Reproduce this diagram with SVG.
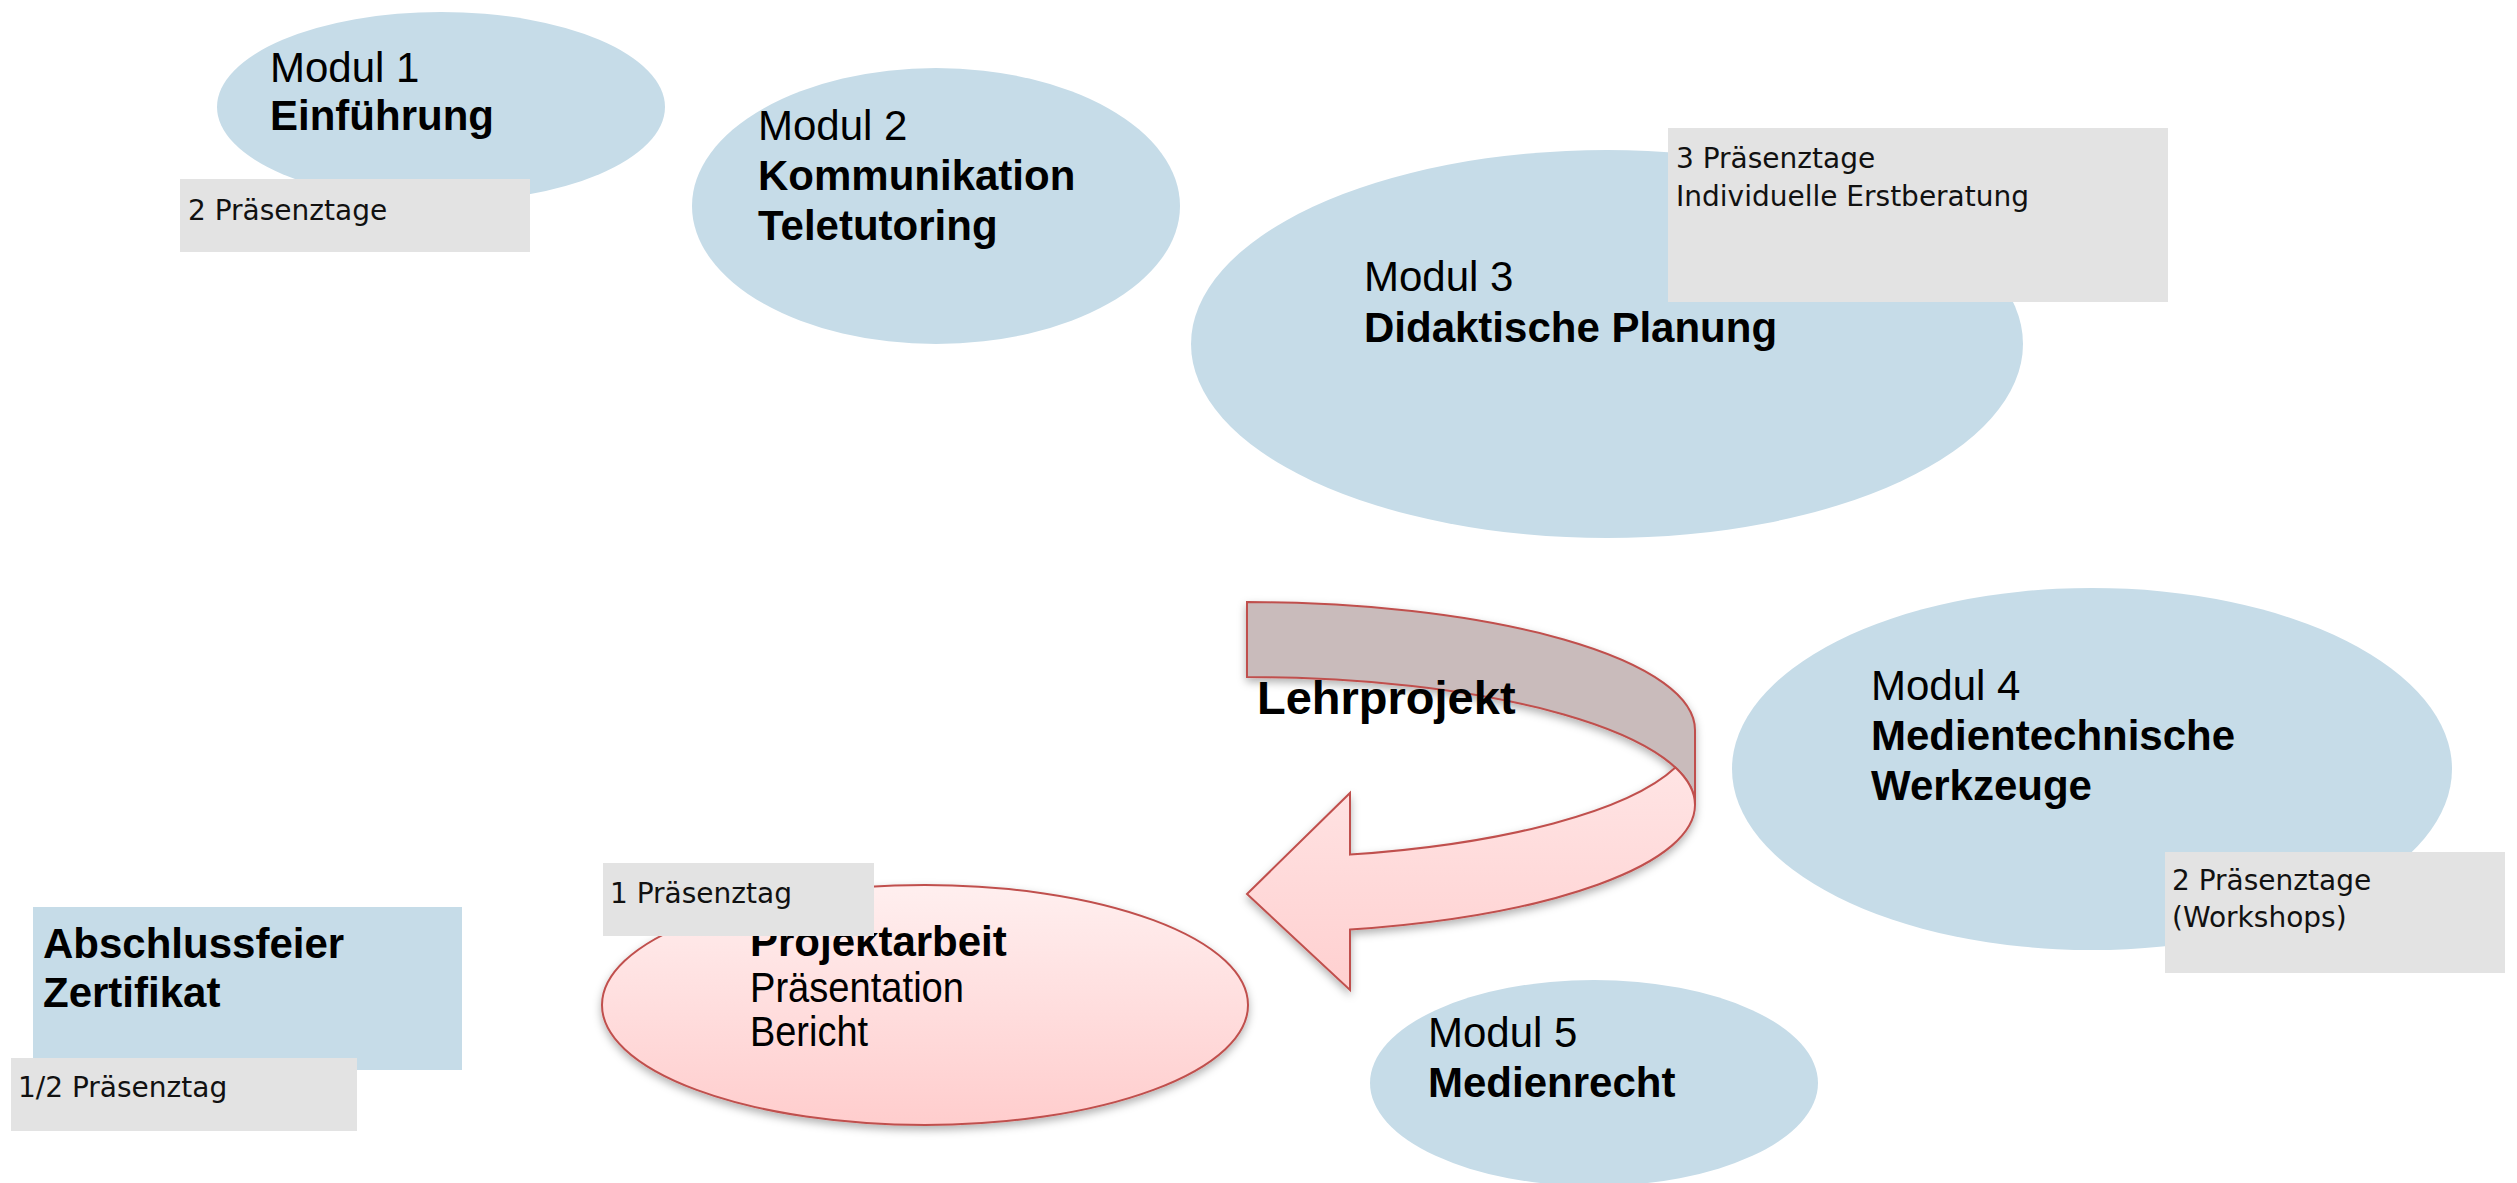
<svg xmlns="http://www.w3.org/2000/svg" width="2517" height="1183" viewBox="0 0 2517 1183">
  <style>
    .blue { fill: #C6DCE8; }
    .gray { fill: #E3E3E3; }
    .t { font-family: "Liberation Sans", Arial, sans-serif; font-size: 42px; fill: #000; }
    .b { font-weight: bold; }
    .s { font-family: "DejaVu Sans", "Liberation Sans", sans-serif; font-size: 28px; fill: #111; }
    .red { stroke: #C0504D; stroke-width: 2; }
  </style>
  <defs>
    <linearGradient id="pinkGrad" x1="0" y1="0" x2="0" y2="1">
      <stop offset="0" stop-color="#FFEFEF"/>
      <stop offset="1" stop-color="#FFCDCD"/>
    </linearGradient>
    <linearGradient id="frontGrad" x1="0" y1="0" x2="0" y2="1">
      <stop offset="0" stop-color="#FFE4E4"/>
      <stop offset="1" stop-color="#FFD0D0"/>
    </linearGradient>
    <filter id="shadow" x="-10%" y="-10%" width="120%" height="130%">
      <feDropShadow dx="0" dy="4" stdDeviation="4" flood-color="#000" flood-opacity="0.3"/>
    </filter>
  </defs>

  <g id="modul1">
    <ellipse class="blue" cx="441" cy="107" rx="224" ry="95"/>
    <text class="t" x="270" y="82">Modul 1</text>
    <text class="t b" x="270" y="130">Einführung</text>
    <rect class="gray" x="180" y="179" width="350" height="73"/>
    <text class="s" x="188" y="220">2 Präsenztage</text>
  </g>

  <g id="modul2">
    <ellipse class="blue" cx="936" cy="206" rx="244" ry="138"/>
    <text class="t" x="758" y="140">Modul 2</text>
    <text class="t b" x="758" y="190">Kommunikation</text>
    <text class="t b" x="758" y="240">Teletutoring</text>
  </g>

  <g id="modul3">
    <ellipse class="blue" cx="1607" cy="344" rx="416" ry="194"/>
    <text class="t" x="1364" y="291">Modul 3</text>
    <text class="t b" x="1364" y="342">Didaktische Planung</text>
    <rect class="gray" x="1668" y="128" width="500" height="174"/>
    <text class="s" x="1676" y="168">3 Präsenztage</text>
    <text class="s" x="1676" y="206">Individuelle Erstberatung</text>
  </g>

  <g id="modul4">
    <ellipse class="blue" cx="2092" cy="769" rx="360" ry="181"/>
    <text class="t" x="1871" y="700">Modul 4</text>
    <text class="t b" x="1871" y="750">Medientechnische</text>
    <text class="t b" x="1871" y="800">Werkzeuge</text>
    <rect class="gray" x="2165" y="852" width="340" height="121"/>
    <text class="s" x="2172" y="890">2 Präsenztage</text>
    <text class="s" x="2172" y="927">(Workshops)</text>
  </g>

  <g id="modul5">
    <ellipse class="blue" cx="1594" cy="1083" rx="224" ry="103"/>
    <text class="t" x="1428" y="1047">Modul 5</text>
    <text class="t b" x="1428" y="1097">Medienrecht</text>
  </g>

  <g id="connectors">
    <g id="lehrprojekt-arrow" filter="url(#shadow)">
      <path class="red" fill="#C9BBBB" d="M 1247,602 A 448,128 0 0 1 1695,730 L 1695,805 A 448,128 0 0 0 1247,677 Z"/>
      <path class="red" fill="url(#frontGrad)" d="M 1695,805 A 448,128 0 0 1 1350,929.6 L 1350,990 L 1247,894 L 1350,793 L 1350,854.6 A 448,128 0 0 0 1675.4,767.5 A 448,128 0 0 1 1695,805 Z"/>
    </g>
    <text class="t b" x="1257" y="714" style="font-size:47px">Lehrprojekt</text>
  </g>

  <g id="projektarbeit">
    <ellipse class="red" fill="url(#pinkGrad)" filter="url(#shadow)" cx="925" cy="1005" rx="323" ry="120"/>
    <text class="t b" x="750" y="956">Projektarbeit</text>
    <text class="t" x="750" y="1002" textLength="214" lengthAdjust="spacingAndGlyphs">Präsentation</text>
    <text class="t" x="750" y="1046" textLength="118" lengthAdjust="spacingAndGlyphs">Bericht</text>
    <rect class="gray" x="603" y="863" width="271" height="73"/>
    <text class="s" x="610" y="903">1 Präsenztag</text>
  </g>

  <g id="abschluss">
    <rect class="blue" x="33" y="907" width="429" height="163"/>
    <text class="t b" x="43" y="958">Abschlussfeier</text>
    <text class="t b" x="43" y="1007">Zertifikat</text>
    <rect class="gray" x="11" y="1058" width="346" height="73"/>
    <text class="s" x="18" y="1097">1/2 Präsenztag</text>
  </g>
</svg>
